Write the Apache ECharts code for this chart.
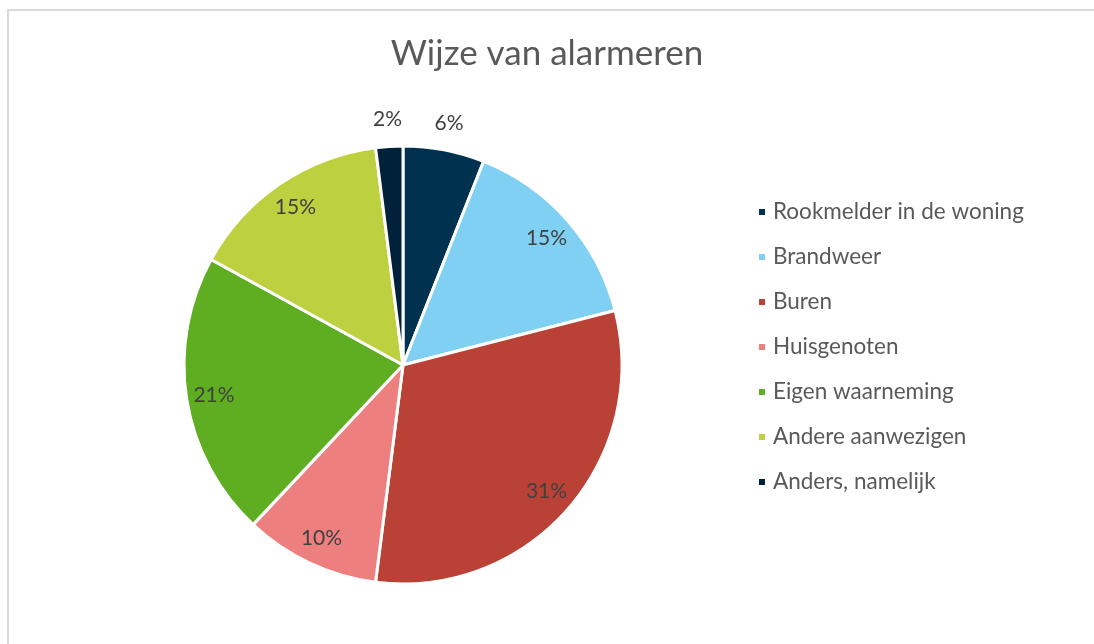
<!DOCTYPE html>
<html><head><meta charset="utf-8">
<script src="https://cdn.jsdelivr.net/npm/echarts@6/dist/echarts.min.js"></script>
<style>html,body{margin:0;padding:0;background:#fff}#c{width:1094px;height:644px}</style>
</head><body><div id="c"></div>
<script>
const categories = ['Rookmelder in de woning','Brandweer','Buren','Huisgenoten','Eigen waarneming','Andere aanwezigen','Anders, namelijk'];
const values = [6, 15, 31, 10, 21, 15, 2];
const colors = ['#00324F','#7FD0F2','#BA4135','#EE7F7F','#5FAE21','#BDD140','#00213A'];
const outsideLabel = [true, false, false, false, false, false, true];

const chart = echarts.init(document.getElementById('c'));
const font = 'Lato, Open Sans, sans-serif';
const center = [403, 365];
const R = 219;
function labelSeries(radius, showFn) {
  return {
    type: 'pie', center: center, radius: [0, radius], startAngle: 90,
    silent: true, legendHoverLink: false, animation: false,
    itemStyle: { color: 'rgba(0,0,0,0)', borderWidth: 0 },
    labelLine: { show: false },
    data: categories.map((n, i) => ({
      name: n, value: values[i],
      label: { show: showFn(i), position: 'inside', formatter: values[i] + '%',
        color: '#404040', fontSize: 21, fontFamily: font }
    }))
  };
}
chart.setOption({
  backgroundColor: '#fff',
  color: colors,
  title: { text: 'Wijze van alarmeren', left: 'center', top: 31,
    textStyle: { color: '#595959', fontSize: 35, fontWeight: 'normal', fontFamily: font } },
  legend: {
    orient: 'vertical', left: 752, top: 195, icon: 'rect', itemWidth: 8, itemHeight: 8,
    itemGap: 21, selectedMode: false,
    data: categories,
    textStyle: { color: '#595959', fontSize: 22.5, fontFamily: font, lineHeight: 24, padding: [0,0,0,2] }
  },
  graphic: [{ type: 'rect', shape: { x: 8, y: 10, width: 1200, height: 800 },
    style: { fill: 'none', stroke: '#d9d9d9', lineWidth: 2 }, silent: true, z: -10 }],
  series: [
    {
      type: 'pie', center: center, radius: [0, R], startAngle: 90, animation: false,
      itemStyle: { borderColor: '#fff', borderWidth: 3 },
      label: { show: false }, labelLine: { show: false },
      data: categories.map((n, i) => ({ name: n, value: values[i] }))
    },
    labelSeries(R * 1.72, i => !outsideLabel[i]),
    labelSeries(R * 2.22, i => outsideLabel[i])
  ]
});
</script></body></html>
